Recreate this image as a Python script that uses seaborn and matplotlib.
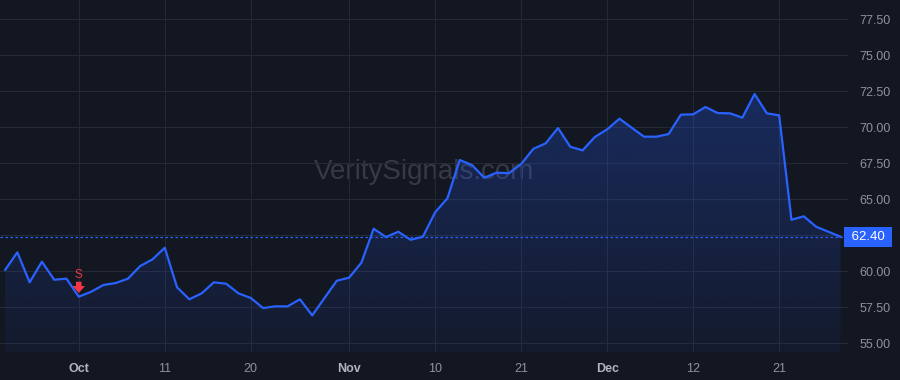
import numpy as np
import pandas as pd
import matplotlib
matplotlib.use("Agg")
import matplotlib.pyplot as plt
import seaborn as sns

# ---- data ----
start_date = "2023-09-22"
end_date = "2023-12-29"
market_holidays = ["2023-11-23", "2023-12-25"]
prices = [
    60.09, 61.32, 59.24, 60.67, 59.42, 59.49, 58.24, 58.58, 59.05, 59.19,
    59.49, 60.37, 60.83, 61.64, 58.89, 58.06, 58.47, 59.24, 59.14, 58.47,
    58.15, 57.45, 57.57, 57.57, 58.06, 56.94, 58.15, 59.35, 59.56, 60.60,
    62.96, 62.38, 62.75, 62.19, 62.40, 64.10, 65.07, 67.73, 67.38, 66.50,
    66.85, 66.81, 67.45, 68.51, 68.89, 69.95, 68.65, 68.40, 69.33, 69.86,
    70.60, 69.97, 69.35, 69.35, 69.53, 70.88, 70.90, 71.41, 70.99, 70.97,
    70.67, 72.31, 70.97, 70.83, 63.58, 63.82, 63.10, 62.75, 62.40,
]
tick_dates = ["2023-10-02", "2023-10-11", "2023-10-20", "2023-11-01", "2023-11-10",
              "2023-11-21", "2023-12-01", "2023-12-12", "2023-12-21"]
tick_labels = ["Oct", "11", "20", "Nov", "10", "21", "Dec", "12", "21"]
y_ticks = [55.0, 57.5, 60.0, 62.5, 65.0, 67.5, 70.0, 72.5, 75.0, 77.5]
last_price = 62.40
signal_date = "2023-10-02"
signal_label = "S"
watermark = "VeritySignals.com"

# ---- style ----
BG = "#131722"
GRID = "#252934"
LINE = "#2962ff"
TICK = "#8f929b"
MONTH = "#b2b5be"
RED = "#f23645"

sns.set_theme(style="dark")
plt.rcParams["font.family"] = ["Liberation Sans", "DejaVu Sans"]

dates = pd.bdate_range(start_date, end_date, freq="C", holidays=market_holidays)
x = np.arange(len(prices))
df = pd.DataFrame({"x": x, "price": prices})
tick_pos = dates.get_indexer(pd.to_datetime(tick_dates))
sig_pos = dates.get_indexer(pd.to_datetime([signal_date]))[0]

fig = plt.figure(figsize=(9, 3.8), dpi=100, facecolor=BG)
ax = fig.add_axes([0, 28 / 380, 848 / 900, 352 / 380])
ax.set_facecolor(BG)

ymin, ymax = 54.40, 78.84
ax.set_xlim(-0.41, len(prices) - 0.4)
ax.set_ylim(ymin, ymax)

# gradient fill under the line
fill = ax.fill_between(df["x"], df["price"], ymin, facecolor="none", edgecolor="none")
top = max(prices)
grad = np.linspace(0, 1, 256).reshape(-1, 1)
rgba = np.zeros((256, 1, 4))
rgba[..., 0] = 41 / 255
rgba[..., 1] = 98 / 255
rgba[..., 2] = 255 / 255
rgba[..., 3] = (0.05 + 0.22 * grad)[:, :]
im = ax.imshow(rgba, extent=[x[0], x[-1], ymin, top], origin="lower",
               aspect="auto", zorder=1, interpolation="bilinear")
im.set_clip_path(fill.get_paths()[0], transform=ax.transData)

sns.lineplot(data=df, x="x", y="price", ax=ax, color=LINE, linewidth=1.6, zorder=3)

# last price line
ax.axhline(last_price, color=LINE, linewidth=0.9, linestyle=(0, (2, 2)), zorder=2)

# axes / ticks
ax.yaxis.tick_right()
ax.set_yticks(y_ticks)
# the 62.50 label is hidden behind the last-price badge
ax.set_yticklabels(["" if abs(v - last_price) < 0.6 else f"{v:.2f}" for v in y_ticks])
ax.set_xticks(tick_pos)
ax.set_xticklabels(tick_labels)
ax.set_xlabel("")
ax.set_ylabel("")
ax.tick_params(axis="both", length=0, colors=TICK, labelsize=9)
ax.tick_params(axis="y", pad=8)
ax.tick_params(axis="x", pad=8)
for lbl in ax.get_xticklabels():
    if lbl.get_text() in ("Oct", "Nov", "Dec"):
        lbl.set_color(MONTH)
        lbl.set_fontweight("bold")
ax.grid(True, color=GRID, linewidth=0.8)
for s in ax.spines.values():
    s.set_visible(False)

# last price badge
ax.text(1.0, last_price, f" {last_price:.2f} ", transform=ax.get_yaxis_transform(),
        ha="left", va="center", color="white", fontsize=9.5, zorder=5,
        bbox=dict(boxstyle="square,pad=0.3", facecolor=LINE, edgecolor="none"),
        clip_on=False)

# watermark
ax.text(0.5, 0.51, watermark, transform=ax.transAxes, ha="center", va="center",
        fontsize=20, color="#363a46", zorder=0)

# signal marker
ax.text(sig_pos, 59.74, signal_label, ha="center", va="center", color=RED,
        fontsize=8.5, zorder=4)
ax.annotate("", xy=(sig_pos, 58.50), xytext=(sig_pos, 59.28),
            arrowprops=dict(arrowstyle="simple,head_width=0.9,head_length=0.5,tail_width=0.4",
                            color=RED, lw=0, shrinkA=0, shrinkB=0, mutation_scale=10),
            zorder=4)

fig.savefig("out.png", dpi=100, facecolor=BG)
